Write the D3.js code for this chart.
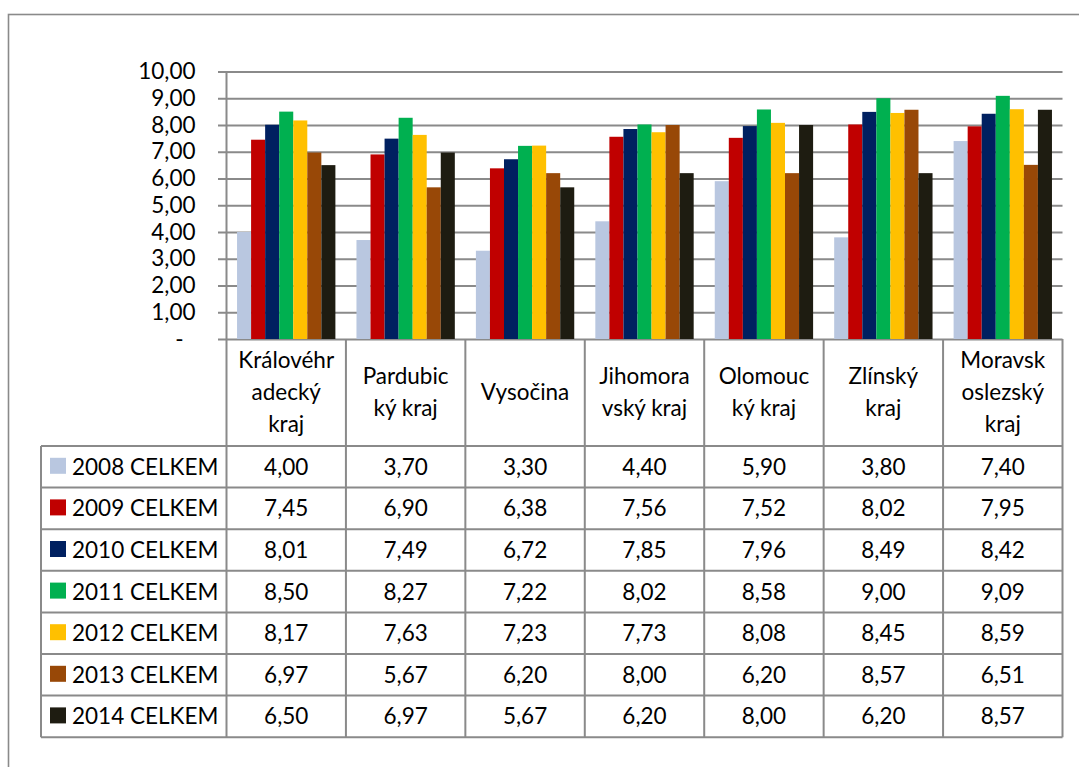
<!DOCTYPE html>
<html>
<head>
<meta charset="utf-8">
<script src="https://cdn.jsdelivr.net/npm/d3@7"></script>
<style>
  html, body { margin: 0; padding: 0; background: #fff; }
  svg { display: block; }
  text { font-family: Lato, "Open Sans", sans-serif; fill: #000; }
</style>
</head>
<body>
<svg id="chart" width="1079" height="767"></svg>
<script>
// Regions (column headers, pre-wrapped as in the data table)
const regions = ["Královéhradecký kraj", "Pardubický kraj", "Vysočina", "Jihomoravský kraj",
                 "Olomoucký kraj", "Zlínský kraj", "Moravskoslezský kraj"];
const regionLines = [
  ["Královéhr", "adecký", "kraj"],
  ["Pardubic", "ký kraj"],
  ["Vysočina"],
  ["Jihomora", "vský kraj"],
  ["Olomouc", "ký kraj"],
  ["Zlínský", "kraj"],
  ["Moravsk", "oslezský", "kraj"]
];

const seriesNames = ["2008 CELKEM", "2009 CELKEM", "2010 CELKEM", "2011 CELKEM",
                     "2012 CELKEM", "2013 CELKEM", "2014 CELKEM"];
const seriesColors = ["#b9c7e0", "#c00000", "#002060", "#00b050", "#ffc000", "#984807", "#1e1c11"];

const v2008 = [4.00, 3.70, 3.30, 4.40, 5.90, 3.80, 7.40];
const v2009 = [7.45, 6.90, 6.38, 7.56, 7.52, 8.02, 7.95];
const v2010 = [8.01, 7.49, 6.72, 7.85, 7.96, 8.49, 8.42];
const v2011 = [8.50, 8.27, 7.22, 8.02, 8.58, 9.00, 9.09];
const v2012 = [8.17, 7.63, 7.23, 7.73, 8.08, 8.45, 8.59];
const v2013 = [6.97, 5.67, 6.20, 8.00, 6.20, 8.57, 6.51];
const v2014 = [6.50, 6.97, 5.67, 6.20, 8.00, 6.20, 8.57];
const seriesValues = [v2008, v2009, v2010, v2011, v2012, v2013, v2014];

const yTicks = [0, 1, 2, 3, 4, 5, 6, 7, 8, 9, 10];

// Czech number format: comma as decimal separator
const cz = d3.formatLocale({ decimal: ",", thousands: " ", grouping: [3], currency: ["", " Kč"] });
const fmt = cz.format(".2f");

const svg = d3.select("#chart");
const gridColor = "#8a8a8a";

// Geometry
const plotLeft = 226.5, plotRight = 1062.5;
const plotTop = 71.5, plotBottom = 339;
const tableLeft = 41;
const headerBottom = 446;
const rowH = 41.6;
const fontSize = 22.5;

// Outer chart-area border
svg.append("rect")
  .attr("x", 8.5).attr("y", 14.5)
  .attr("width", 1200).attr("height", 900)
  .attr("fill", "none").attr("stroke", gridColor).attr("stroke-width", 1.6);

const x = d3.scaleBand().domain(regions).range([plotLeft, plotRight]).padding(0);
const xs = d3.scaleBand().domain(seriesNames).range([0, x.bandwidth()])
  .paddingInner(0).paddingOuter(0.75);
const y = d3.scaleLinear().domain([0, 10]).range([plotBottom, plotTop]);

// Horizontal gridlines with outside tick marks
const grid = svg.append("g")
  .attr("transform", `translate(218,0)`)
  .call(d3.axisLeft(y).tickValues(yTicks).tickSize(-(plotRight - 218)).tickFormat(""));
grid.select(".domain").remove();
grid.selectAll(".tick line").attr("stroke", gridColor).attr("stroke-width", 2);

// Y-axis labels (zero shown as a dash, accounting style)
const yAxis = svg.append("g")
  .attr("transform", `translate(${plotLeft},0)`)
  .call(d3.axisLeft(y).tickValues(yTicks).tickSize(0).tickPadding(31)
    .tickFormat(d => d === 0 ? "-" : fmt(d)));
yAxis.select(".domain").remove();
yAxis.selectAll(".tick text")
  .style("font-family", "Lato, sans-serif")
  .style("font-size", fontSize + "px")
  .attr("fill", "#000")
  .attr("dx", d => d === 0 ? -12 : 0);

// Bars
const groups = svg.append("g").selectAll("g")
  .data(seriesNames)
  .join("g")
  .attr("fill", (d, i) => seriesColors[i]);
groups.selectAll("rect")
  .data((s, i) => seriesValues[i].map((v, j) => ({ s, region: regions[j], v })))
  .join("rect")
  .attr("x", d => x(d.region) + xs(d.s))
  .attr("width", xs.bandwidth())
  .attr("y", d => y(d.v))
  .attr("height", d => y(0) - y(d.v));

// Data table
const tableBottom = headerBottom + rowH * seriesNames.length;
const lines = svg.append("g").attr("stroke", gridColor).attr("stroke-width", 2).attr("fill", "none");

// Value axis line continuing into the table
lines.append("line").attr("x1", plotLeft).attr("x2", plotLeft).attr("y1", plotTop).attr("y2", tableBottom);
// Category boundaries
regions.forEach(r => {
  const xr = x(r) + x.bandwidth();
  lines.append("line").attr("x1", xr).attr("x2", xr).attr("y1", plotBottom).attr("y2", tableBottom);
});
// Left edge of legend column
lines.append("line").attr("x1", tableLeft).attr("x2", tableLeft).attr("y1", headerBottom).attr("y2", tableBottom);
// Row separators
d3.range(seriesNames.length + 1).forEach(i => {
  const yy = headerBottom + i * rowH;
  lines.append("line").attr("x1", tableLeft).attr("x2", plotRight).attr("y1", yy).attr("y2", yy);
});

// Header labels
const headerMid = (plotBottom + headerBottom) / 2;
const lineGap = 32;
regions.forEach((r, i) => {
  const ls = regionLines[i];
  const t = svg.append("text")
    .attr("text-anchor", "middle")
    .style("font-size", fontSize + "px");
  ls.forEach((l, k) => {
    t.append("tspan")
      .attr("x", x(r) + x.bandwidth() / 2)
      .attr("y", headerMid - (ls.length - 1) * lineGap / 2 + k * lineGap + 7.5)
      .text(l);
  });
});

// Table rows: legend key, series name and values
seriesNames.forEach((s, i) => {
  const cy = headerBottom + i * rowH + rowH / 2;
  svg.append("rect")
    .attr("x", 50).attr("y", cy - 9)
    .attr("width", 16).attr("height", 16)
    .attr("fill", seriesColors[i]);
  svg.append("text")
    .attr("x", 72).attr("y", cy + 8)
    .style("font-size", fontSize + "px")
    .text(s);
  seriesValues[i].forEach((v, j) => {
    svg.append("text")
      .attr("x", x(regions[j]) + x.bandwidth() / 2)
      .attr("y", cy + 8)
      .attr("text-anchor", "middle")
      .style("font-size", fontSize + "px")
      .text(fmt(v));
  });
});
</script>
</body>
</html>
